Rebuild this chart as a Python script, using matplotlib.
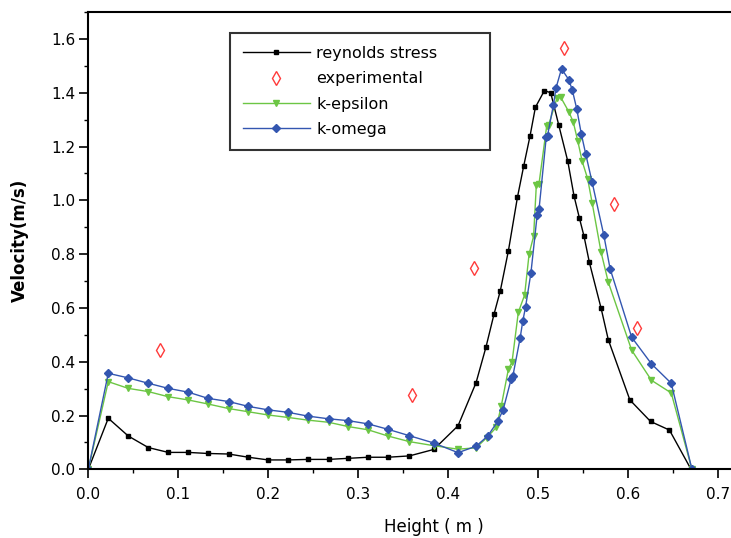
import matplotlib
matplotlib.use("Agg")
import matplotlib.pyplot as plt
from matplotlib.ticker import MultipleLocator

plt.rcParams["font.family"] = ["DejaVu Sans"]

# reynolds stress
rs_x = [0, 0.0222, 0.0444, 0.0667, 0.0889, 0.111, 0.133, 0.156, 0.178, 0.2, 0.222,
        0.244, 0.267, 0.289, 0.311, 0.333, 0.357, 0.384, 0.411, 0.431, 0.442, 0.451,
        0.458, 0.467, 0.477, 0.484, 0.491, 0.497, 0.507, 0.514, 0.523, 0.533, 0.540,
        0.546, 0.551, 0.557, 0.570, 0.578, 0.602, 0.625, 0.646, 0.670]
rs_y = [0, 0.19, 0.124, 0.081, 0.063, 0.063, 0.059, 0.057, 0.045, 0.035, 0.035,
        0.037, 0.037, 0.041, 0.045, 0.045, 0.05, 0.074, 0.162, 0.322, 0.454, 0.577,
        0.664, 0.813, 1.011, 1.128, 1.239, 1.346, 1.408, 1.400, 1.279, 1.145, 1.015,
        0.933, 0.867, 0.769, 0.599, 0.482, 0.258, 0.178, 0.146, 0.0]

# experimental
exp_x = [0.0796, 0.360, 0.429, 0.529, 0.584, 0.610]
exp_y = [0.443, 0.278, 0.750, 1.566, 0.986, 0.526]

# k-epsilon
ke_x = [0, 0.0222, 0.0444, 0.0667, 0.0889, 0.111, 0.133, 0.156, 0.178, 0.2, 0.222,
        0.244, 0.267, 0.289, 0.311, 0.333, 0.357, 0.384, 0.411, 0.431, 0.443, 0.4535,
        0.459, 0.467, 0.471, 0.478, 0.485, 0.490, 0.495, 0.498, 0.501, 0.5095, 0.5116,
        0.521, 0.525, 0.534, 0.539, 0.544, 0.549, 0.555, 0.560, 0.570, 0.578, 0.604,
        0.626, 0.648, 0.671]
ke_y = [0, 0.326, 0.301, 0.289, 0.270, 0.258, 0.243, 0.226, 0.214, 0.202, 0.193,
        0.183, 0.175, 0.159, 0.147, 0.124, 0.103, 0.088, 0.075, 0.080, 0.118, 0.156,
        0.235, 0.373, 0.399, 0.584, 0.648, 0.801, 0.867, 1.056, 1.062, 1.275, 1.279,
        1.381, 1.384, 1.330, 1.292, 1.222, 1.145, 1.081, 0.992, 0.807, 0.696, 0.443,
        0.331, 0.284, 0.0]

# k-omega
ko_x = [0, 0.0222, 0.0444, 0.0667, 0.0889, 0.111, 0.133, 0.156, 0.178, 0.2, 0.222,
        0.244, 0.267, 0.289, 0.311, 0.333, 0.357, 0.384, 0.411, 0.431, 0.444, 0.455,
        0.461, 0.470, 0.472, 0.480, 0.483, 0.486, 0.492, 0.499, 0.501, 0.509, 0.5105,
        0.517, 0.520, 0.526, 0.534, 0.538, 0.543, 0.548, 0.553, 0.560, 0.573, 0.580,
        0.604, 0.626, 0.648, 0.671]
ko_y = [0, 0.357, 0.340, 0.320, 0.301, 0.287, 0.264, 0.252, 0.234, 0.221, 0.212,
        0.198, 0.188, 0.181, 0.169, 0.149, 0.125, 0.098, 0.062, 0.086, 0.124, 0.178,
        0.220, 0.335, 0.348, 0.488, 0.552, 0.603, 0.730, 0.947, 0.966, 1.234, 1.241,
        1.355, 1.419, 1.489, 1.449, 1.410, 1.339, 1.247, 1.171, 1.068, 0.871, 0.746,
        0.491, 0.392, 0.320, 0.0]

C_GREEN = "#6cc644"
C_BLUE = "#3356b0"

fig = plt.figure(figsize=(7.31, 5.38), dpi=100)
# axes runs past the right edge of the figure, like the cropped original
ax = fig.add_axes([0.1208, 0.1276, 0.923, 0.850])

ax.plot(rs_x, rs_y, "-", color="black", lw=1.0, marker="s", ms=3.5,
        label="reynolds stress")
ax.plot(exp_x, exp_y, ls="none", marker="d", ms=7.5, mfc="none", mec="#ff3b3b",
        mew=1.0, label="experimental")
ax.plot(ke_x, ke_y, "-", color=C_GREEN, lw=1.0, marker="v", ms=4.8,
        label="k-epsilon")
ax.plot(ko_x, ko_y, "-", color=C_BLUE, lw=1.0, marker="D", ms=4.5,
        label="k-omega")

ax.set_xlim(0, 0.75)
ax.set_ylim(0, 1.7)
ax.xaxis.set_major_locator(MultipleLocator(0.1))
ax.xaxis.set_minor_locator(MultipleLocator(0.05))
ax.yaxis.set_major_locator(MultipleLocator(0.2))
ax.yaxis.set_minor_locator(MultipleLocator(0.1))
ax.tick_params(which="major", direction="out", length=6.5, width=1.2,
               labelsize=11, pad=3)
ax.tick_params(axis="x", which="major", pad=6)
ax.tick_params(which="minor", direction="out", length=3, width=1.0)
for s in ax.spines.values():
    s.set_linewidth(1.5)

ax.set_xlabel("Height ( m )", fontsize=12)
ax.set_ylabel("Velocity(m/s)", fontsize=12, fontweight="bold")
ax.xaxis.set_label_coords(0.512, -0.106)
ax.yaxis.set_label_coords(-0.088, 0.5)

leg = ax.legend(loc="upper left", bbox_to_anchor=(0.21, 0.954, 0.385, 0.0),
                mode="expand", borderaxespad=0,
                fontsize=11.5, frameon=True, fancybox=False, edgecolor="black",
                handlelength=4.2, labelspacing=0.65, borderpad=0.8,
                handletextpad=0.4)
leg.get_frame().set_linewidth(1.5)

fig.savefig("out.png", dpi=100)
